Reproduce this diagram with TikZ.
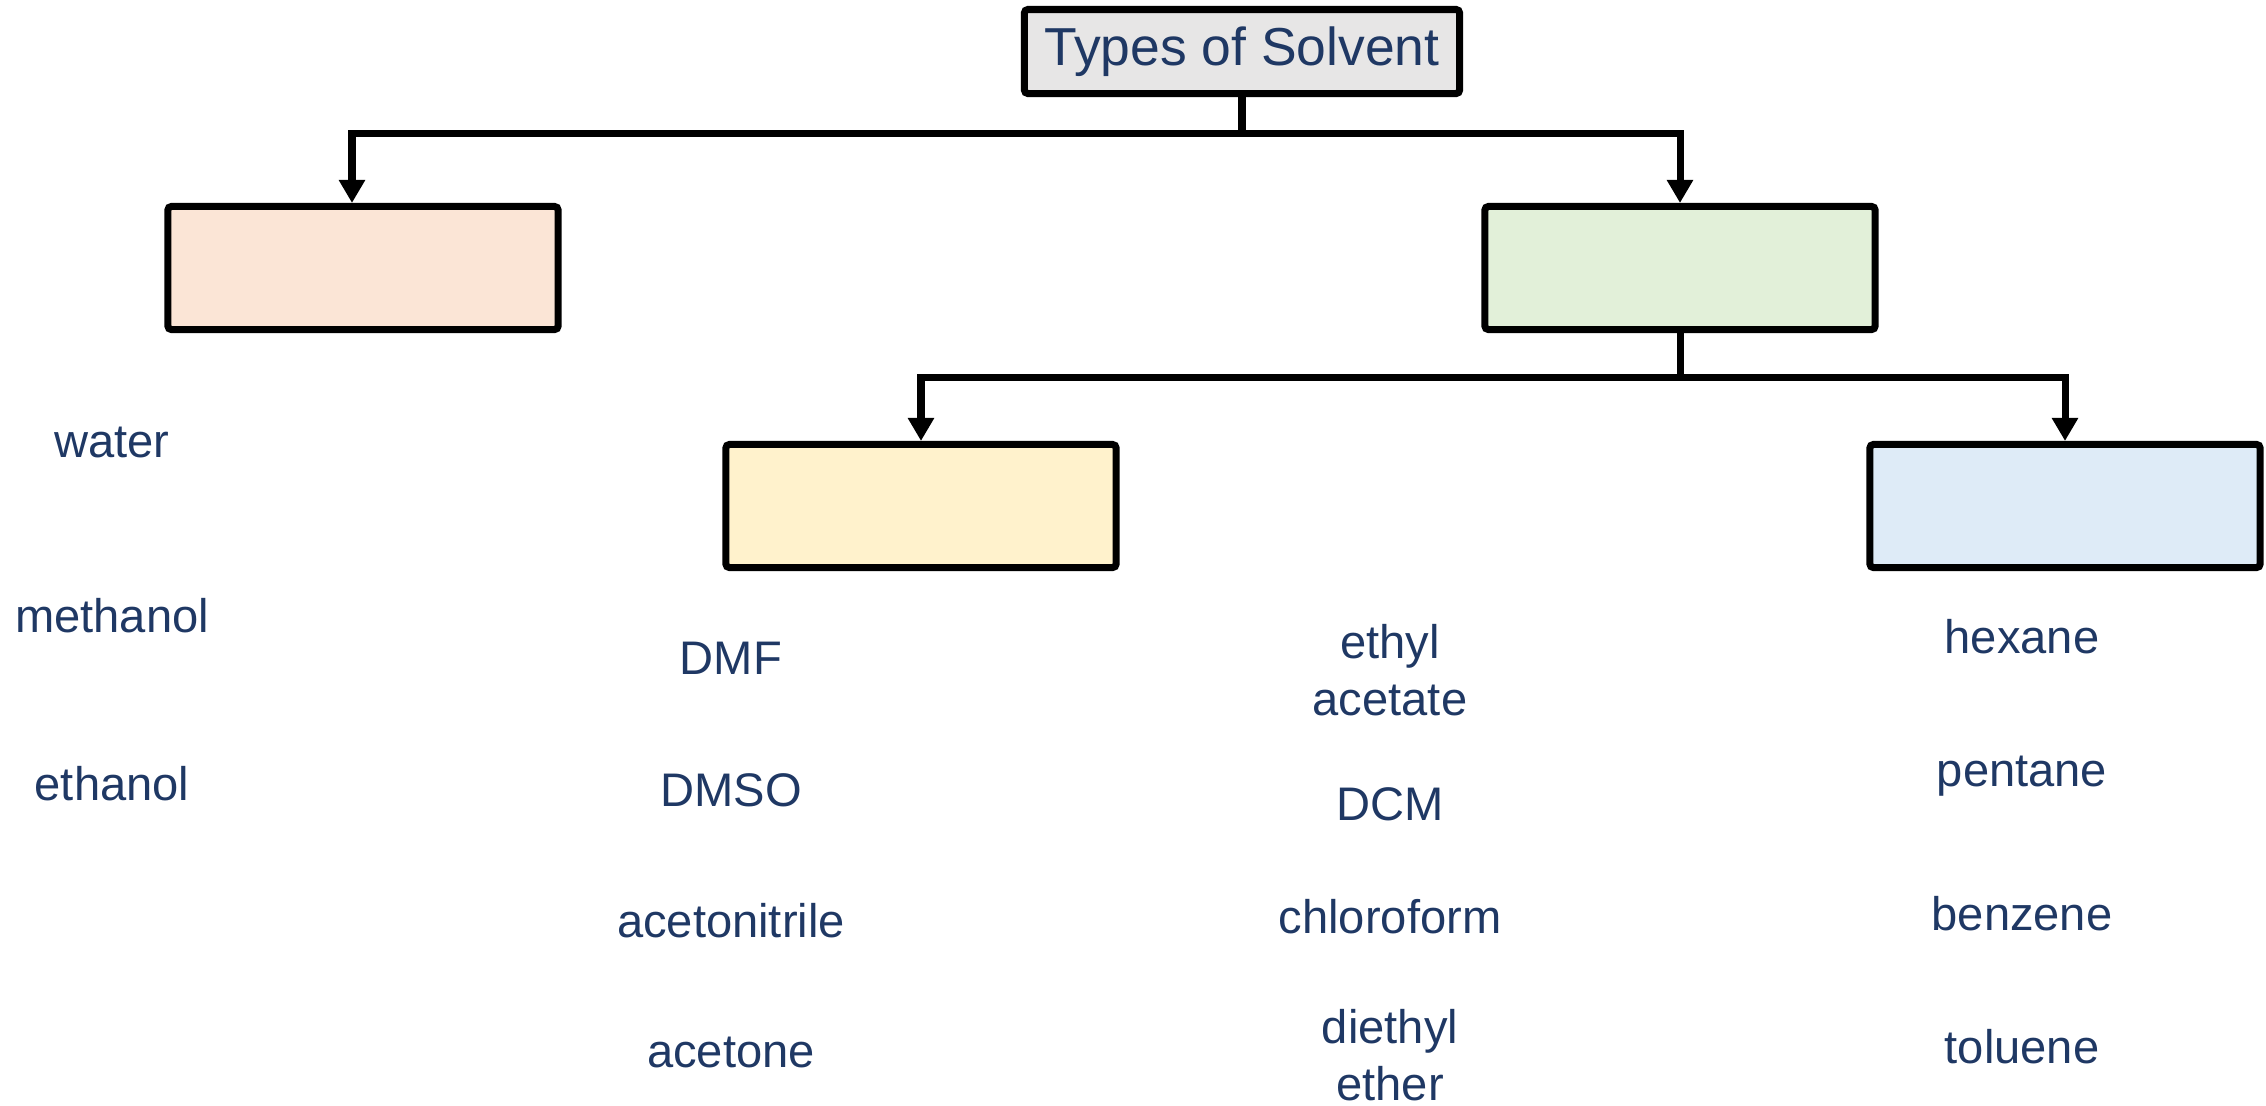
\documentclass[tikz,border=0pt]{standalone}
\usepackage{fontspec}
\setmainfont{Liberation Sans}
\usetikzlibrary{arrows.meta}
\definecolor{txtblue}{RGB}{31,56,100}
\definecolor{boxgray}{RGB}{231,230,230}
\definecolor{boxpeach}{RGB}{251,229,214}
\definecolor{boxgreen}{RGB}{226,240,217}
\definecolor{boxyellow}{RGB}{255,242,204}
\definecolor{boxblue}{RGB}{222,235,247}
\newcommand{\itemfont}{\fontsize{13.4pt}{16.2pt}\selectfont}
\newcommand{\titlefont}{\fontsize{15.2pt}{17pt}\selectfont}
\tikzset{
	box/.style={draw, line width=2pt, rounded corners=1pt, inner sep=0pt,
		minimum width=3.9cm, minimum height=1.23cm},
	link/.style={line width=2pt, ->},
	item/.style={text=txtblue, font=\itemfont, anchor=base, align=center}
}
\begin{document}
\begin{tikzpicture}[x=0.01cm, y=-0.01cm, >={Triangle[width=0.25cm,length=0.23cm]}]
	\useasboundingbox (0,0) rectangle (2266,1105);
	% boxes
	\node[box, fill=boxgray, minimum width=4.35cm, minimum height=0.84cm,
		text=txtblue, font=\titlefont] (types) at (1242,51.5) {Types of Solvent};
	\node[box, fill=boxpeach] (protic) at (363,268) {};
	\node[box, fill=boxgreen] (aprotic) at (1680,268) {};
	\node[box, fill=boxyellow] (polar) at (921,506) {};
	\node[box, fill=boxblue] (nonpolar) at (2065,506) {};
	% connectors
	\draw[link] (types.south) -- ++(0,36) -| ([xshift=-0.11cm]protic.north);
	\draw[link] (types.south) -- ++(0,36) -| (aprotic.north);
	\draw[link] (aprotic.south) -- ++(0,44) -| (polar.north);
	\draw[link] (aprotic.south) -- ++(0,44) -| (nonpolar.north);
	% solvents under each box (base = last line)
	\foreach \n/\t/\y in {water/water/457, meoh/methanol/632, etoh/ethanol/800}
	\node[item] (\n) at (112,\y) {\t};
	\foreach \n/\t/\y in {dmf/DMF/674, dmso/DMSO/806, mecn/acetonitrile/937, acet/acetone/1067}
	\node[item] (\n) at (731,\y) {\t};
	\foreach \n/\t/\y in {etoac/{ethyl\\acetate}/715, dcm/DCM/820, chcl/chloroform/933, ether/{diethyl\\ether}/1100}
	\node[item] (\n) at (1390,\y) {\t};
	\foreach \n/\t/\y in {hex/hexane/653, pent/pentane/786, benz/benzene/930, tol/toluene/1063}
	\node[item] (\n) at (2022,\y) {\t};
\end{tikzpicture}
\end{document}
